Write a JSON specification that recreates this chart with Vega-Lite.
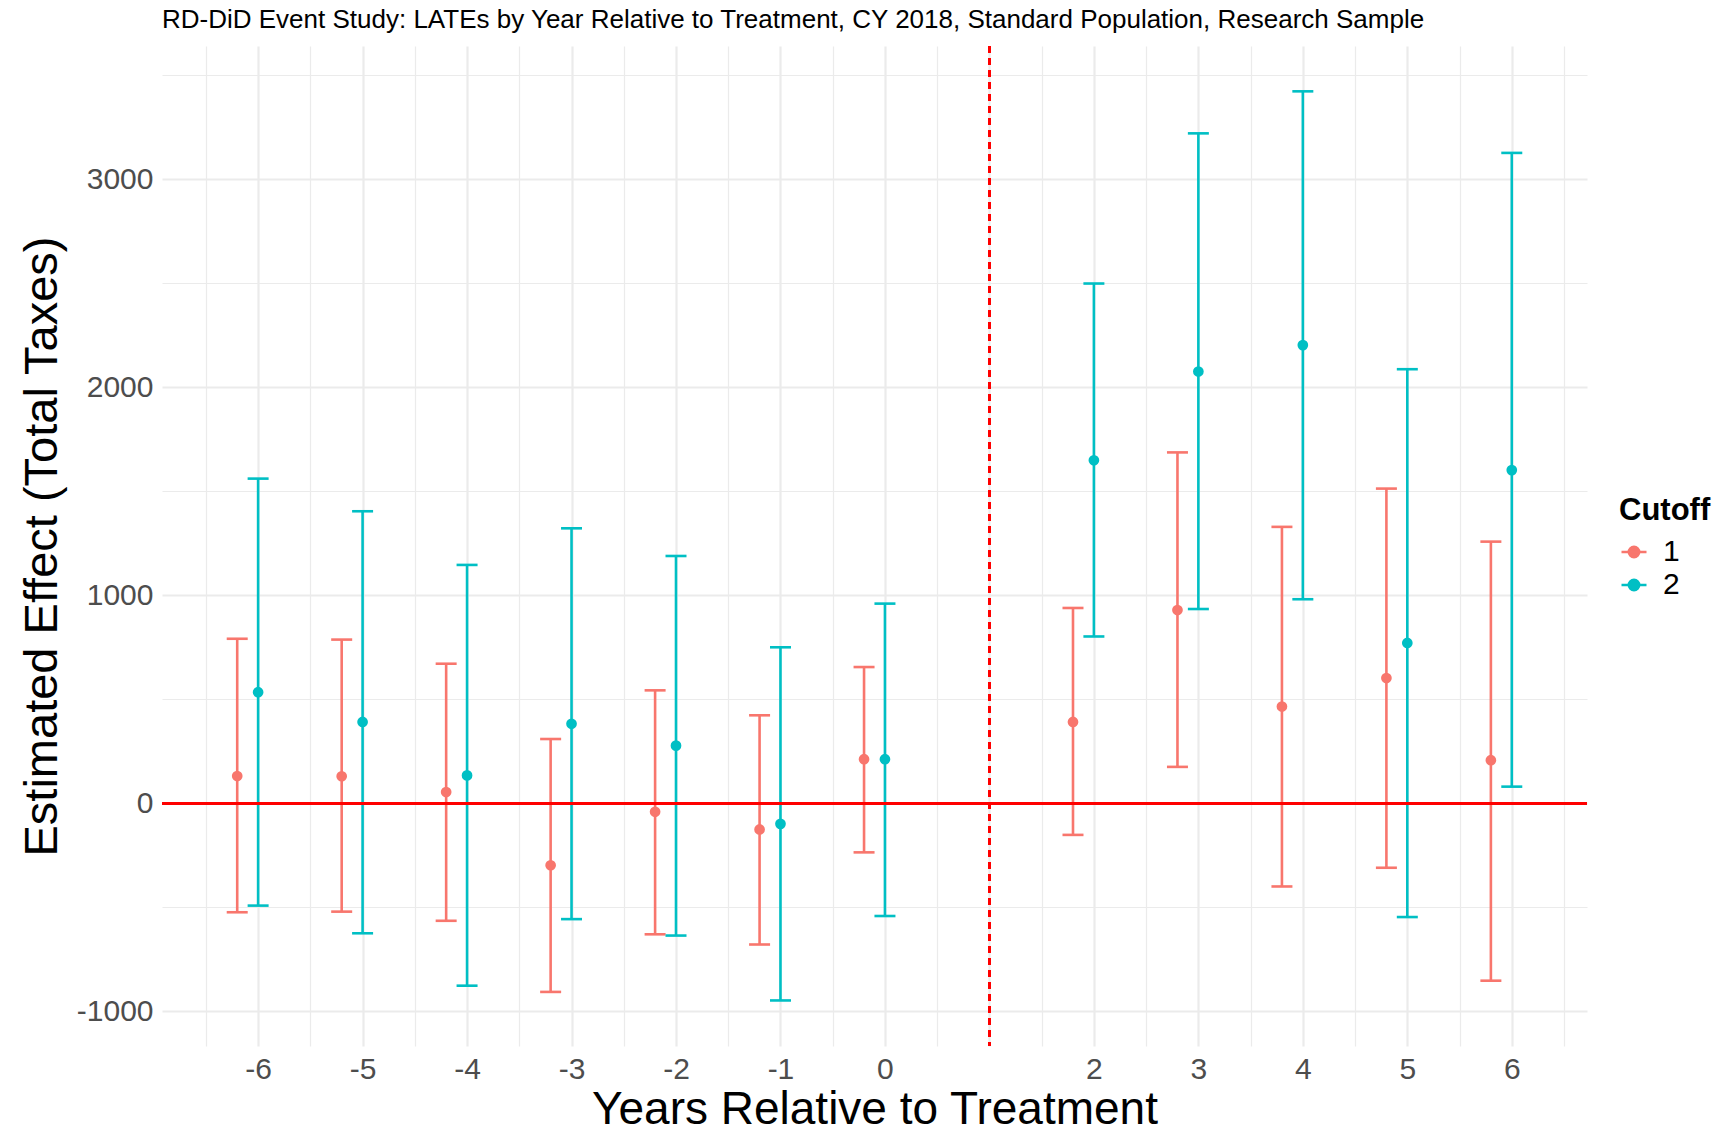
{
  "$schema": "https://vega.github.io/schema/vega-lite/v6.json",
  "width": 1425,
  "height": 1000,
  "autosize": {"type": "none"},
  "padding": {"left": 162, "top": 46, "right": 131, "bottom": 89},
  "background": "white",
  "title": {
    "text": "RD-DiD Event Study: LATEs by Year Relative to Treatment, CY 2018, Standard Population, Research Sample",
    "anchor": "start",
    "frame": "group",
    "font": "Liberation Sans",
    "fontSize": 26,
    "fontWeight": "normal",
    "color": "#000000",
    "offset": 12
  },
  "data": {
    "values": [
      {"year": -6, "cutoff": "1", "est": 130, "lo": -525, "hi": 790},
      {"year": -5, "cutoff": "1", "est": 129, "lo": -522, "hi": 786},
      {"year": -4, "cutoff": "1", "est": 53, "lo": -566, "hi": 670},
      {"year": -3, "cutoff": "1", "est": -299, "lo": -908, "hi": 308},
      {"year": -2, "cutoff": "1", "est": -42, "lo": -631, "hi": 542},
      {"year": -1, "cutoff": "1", "est": -127, "lo": -680, "hi": 422},
      {"year": 0, "cutoff": "1", "est": 211, "lo": -237, "hi": 654},
      {"year": 2, "cutoff": "1", "est": 390, "lo": -153, "hi": 938},
      {"year": 3, "cutoff": "1", "est": 928, "lo": 174, "hi": 1686},
      {"year": 4, "cutoff": "1", "est": 464, "lo": -401, "hi": 1328},
      {"year": 5, "cutoff": "1", "est": 601, "lo": -311, "hi": 1512},
      {"year": 6, "cutoff": "1", "est": 206, "lo": -854, "hi": 1257},
      {"year": -6, "cutoff": "2", "est": 533, "lo": -493, "hi": 1560},
      {"year": -5, "cutoff": "2", "est": 390, "lo": -626, "hi": 1403},
      {"year": -4, "cutoff": "2", "est": 133, "lo": -878, "hi": 1145},
      {"year": -3, "cutoff": "2", "est": 381, "lo": -558, "hi": 1321},
      {"year": -2, "cutoff": "2", "est": 276, "lo": -637, "hi": 1188},
      {"year": -1, "cutoff": "2", "est": -100, "lo": -949, "hi": 749},
      {"year": 0, "cutoff": "2", "est": 211, "lo": -543, "hi": 959},
      {"year": 2, "cutoff": "2", "est": 1648, "lo": 801, "hi": 2498},
      {"year": 3, "cutoff": "2", "est": 2075, "lo": 933, "hi": 3220},
      {"year": 4, "cutoff": "2", "est": 2202, "lo": 980, "hi": 3422},
      {"year": 5, "cutoff": "2", "est": 770, "lo": -548, "hi": 2086},
      {"year": 6, "cutoff": "2", "est": 1601, "lo": 79, "hi": 3126}
    ]
  },
  "encoding": {
    "x": {
      "field": "year",
      "type": "quantitative",
      "scale": {"domain": [-6.92, 6.72], "nice": false, "zero": false},
      "axis": {
        "title": "Years Relative to Treatment",
        "values": [-6.5, -6, -5.5, -5, -4.5, -4, -3.5, -3, -2.5, -2, -1.5, -1, -0.5, 0, 0.5, 1, 1.5, 2, 2.5, 3, 3.5, 4, 4.5, 5, 5.5, 6, 6.5],
        "labelExpr": "(datum.value % 1 === 0 && datum.value !== 1) ? toString(datum.value) : ''",
        "labelPadding": 8,
        "titlePadding": 3,
        "titleFontSize": 46,
        "gridWidth": {"condition": {"test": "datum.value % 1 !== 0", "value": 1.2}, "value": 2.2}
      }
    },
    "y": {
      "field": "lo",
      "type": "quantitative",
      "scale": {"domain": [-1168, 3640], "nice": false, "zero": false},
      "axis": {
        "title": "Estimated Effect (Total Taxes)",
        "values": [-1000, -500, 0, 500, 1000, 1500, 2000, 2500, 3000, 3500],
        "labelExpr": "datum.value % 1000 === 0 ? toString(datum.value) : ''",
        "labelPadding": 9,
        "titlePadding": 10,
        "titleFontSize": 47,
        "gridWidth": {"condition": {"test": "datum.value % 1000 !== 0", "value": 1.2}, "value": 2.2}
      }
    },
    "color": {
      "field": "cutoff",
      "type": "nominal",
      "title": "Cutoff",
      "scale": {"domain": ["1", "2"], "range": ["#F8766D", "#00BFC4"]},
      "legend": {
        "orient": "none",
        "legendX": 1457,
        "legendY": 450,
        "symbolType": "M-1,0L1,0M-0.42,0A0.42,0.42,0,1,1,0.42,0A0.42,0.42,0,1,1,-0.42,0Z",
        "symbolSize": 625,
        "symbolStrokeWidth": 2.4,
        "symbolOpacity": 1,
        "labelFontSize": 30,
        "labelFont": "Liberation Sans",
        "labelColor": "#000000",
        "labelOffset": 14,
        "titleFontSize": 31,
        "titleFont": "Liberation Sans",
        "titleFontWeight": "bold",
        "titleColor": "#000000",
        "titlePadding": 10,
        "rowPadding": 3,
        "encode": {
          "symbols": {
            "update": {
              "fill": {"scale": "color", "field": "value"},
              "stroke": {"scale": "color", "field": "value"}
            }
          }
        }
      }
    }
  },
  "layer": [
    {
      "transform": [{"filter": "datum.cutoff === '1'"}],
      "layer": [
        {
          "mark": {"type": "rule", "strokeWidth": 2.6, "opacity": 1, "xOffset": -20.9},
          "encoding": {"y2": {"field": "hi"}}
        },
        {
          "mark": {"type": "tick", "orient": "horizontal", "size": 21, "thickness": 2.6, "opacity": 1, "xOffset": -20.9},
          "encoding": {"y": {"field": "lo", "type": "quantitative"}}
        },
        {
          "mark": {"type": "tick", "orient": "horizontal", "size": 21, "thickness": 2.6, "opacity": 1, "xOffset": -20.9},
          "encoding": {"y": {"field": "hi", "type": "quantitative"}}
        },
        {
          "mark": {"type": "point", "filled": true, "size": 115, "opacity": 1, "xOffset": -20.9},
          "encoding": {"y": {"field": "est", "type": "quantitative"}}
        }
      ]
    },
    {
      "transform": [{"filter": "datum.cutoff === '2'"}],
      "layer": [
        {
          "mark": {"type": "rule", "strokeWidth": 2.6, "opacity": 1},
          "encoding": {"y2": {"field": "hi"}}
        },
        {
          "mark": {"type": "tick", "orient": "horizontal", "size": 21, "thickness": 2.6, "opacity": 1},
          "encoding": {"y": {"field": "lo", "type": "quantitative"}}
        },
        {
          "mark": {"type": "tick", "orient": "horizontal", "size": 21, "thickness": 2.6, "opacity": 1},
          "encoding": {"y": {"field": "hi", "type": "quantitative"}}
        },
        {
          "mark": {"type": "point", "filled": true, "size": 115, "opacity": 1},
          "encoding": {"y": {"field": "est", "type": "quantitative"}}
        }
      ]
    },
    {
      "mark": {"type": "rule", "color": "#FF0000", "strokeWidth": 2.2},
      "encoding": {"y": {"datum": 0}, "x": null, "color": null}
    },
    {
      "mark": {"type": "rule", "color": "#FF0000", "strokeWidth": 2, "strokeDash": [7, 5]},
      "encoding": {"x": {"datum": 1}, "y": null, "color": null}
    }
  ],
  "config": {
    "view": {"stroke": null},
    "axis": {
      "domain": false,
      "ticks": false,
      "grid": true,
      "gridColor": "#EBEBEB",
      "labelFont": "Liberation Sans",
      "labelFontSize": 30,
      "labelColor": "#4D4D4D",
      "titleFont": "Liberation Sans",
      "titleFontSize": 45,
      "titleFontWeight": "normal",
      "titleColor": "#000000"
    }
  }
}
